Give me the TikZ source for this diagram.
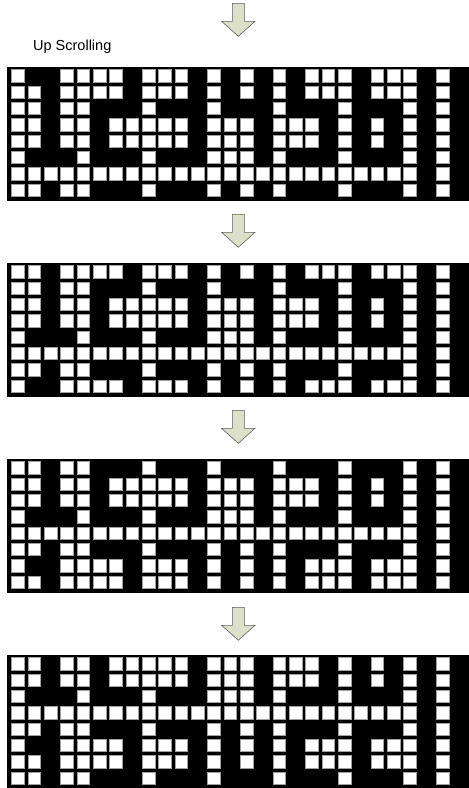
\documentclass[tikz,border=0pt]{standalone}
\usepackage{fontspec}
\setmainfont{Liberation Sans}
\definecolor{arrowfill}{HTML}{DCE0C9}
\definecolor{arrowline}{HTML}{5F5F5F}
\definecolor{cellline}{HTML}{A0A0A0}
\expandafter\def\csname imgrow0\endcsname{1,0,0,1,1,1,1,0,1,1,1,0,1,0,1,0,1,0,1,1,1,0,1,1,1,0,1}
\expandafter\def\csname imgrow1\endcsname{1,1,0,1,1,1,1,0,1,1,1,0,1,0,1,0,1,0,1,1,1,0,1,1,1,0,1}
\expandafter\def\csname imgrow2\endcsname{1,1,0,1,1,0,0,0,1,0,0,0,1,0,0,0,1,0,0,0,1,0,0,0,1,0,1}
\expandafter\def\csname imgrow3\endcsname{1,1,0,1,1,0,1,1,1,1,1,0,1,1,1,0,1,1,1,0,1,0,1,0,1,0,1}
\expandafter\def\csname imgrow4\endcsname{1,1,0,1,1,0,1,1,1,1,1,0,1,1,1,0,1,1,1,0,1,0,1,0,1,0,1}
\expandafter\def\csname imgrow5\endcsname{1,0,0,0,1,0,0,0,1,0,0,0,1,1,1,0,1,0,0,0,1,0,0,0,1,0,1}
\expandafter\def\csname imgrow6\endcsname{1,1,1,1,1,1,1,1,1,1,1,1,1,1,1,1,1,1,1,1,1,1,1,1,1,0,1}
\expandafter\def\csname imgrow7\endcsname{1,1,0,1,1,0,0,0,1,0,0,0,1,0,1,0,1,0,0,0,1,0,0,0,1,0,1}
\tikzset{
  panel/.style={fill=black},
  cell/.style={fill=white, draw=cellline, line width=0.5pt},
  downarrow/.style={fill=arrowfill, draw=arrowline, line width=0.6pt, line join=miter},
}
\begin{document}
\begin{tikzpicture}[x=1pt, y=-1pt]
\useasboundingbox (0,0) rectangle (469,788);
% arrows
\foreach \ay in {3.3, 214.3, 410.3, 607.3} {
  \draw[downarrow] (232.3,\ay) -- (244.3,\ay) -- (244.3,\ay+18) -- (255,\ay+18)
    -- (238.3,\ay+33) -- (221.6,\ay+18) -- (232.3,\ay+18) -- cycle;
}
% title
\node[anchor=base west, inner sep=0pt, font=\fontsize{14.5}{16}\selectfont] (title) at (33,50.5) {Up Scrolling};
% panels
\foreach \k in {0,1,2,3} {
  \pgfmathsetmacro\T{66.5+196.07*\k}
  \fill[panel] (7.3,\T) rectangle (469,\T+134);
  \foreach \r in {0,...,7} {
    \pgfmathtruncatemacro\src{mod(\r+\k,8)}
    \edef\bits{\csname imgrow\src\endcsname}
    \foreach \b [count=\c from 0] in \bits {
      \ifnum\b=1
        \draw[cell] ({11.7+16.33*\c},{\T+3+16.33*\r}) rectangle ++(12.5,12.3);
      \fi
    }
  }
}
\end{tikzpicture}
\end{document}
